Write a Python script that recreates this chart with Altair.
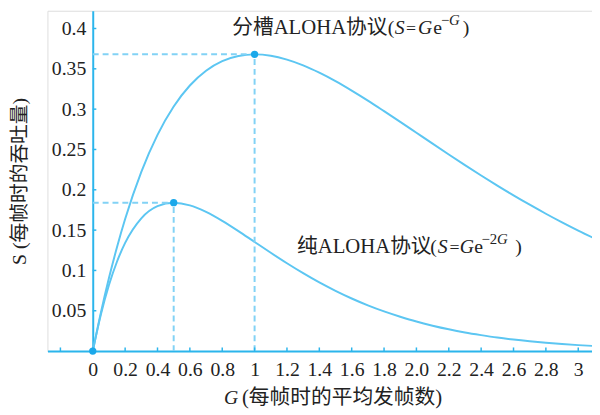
import altair as alt
import pandas as pd

# ---------------- data ----------------
G = [0, 0.05, 0.1, 0.15, 0.2, 0.3, 0.4, 0.5, 0.6, 0.7, 0.8, 0.9, 1.0, 1.1, 1.2,
     1.3, 1.4, 1.5, 1.6, 1.7, 1.8, 1.9, 2.0, 2.1, 2.2, 2.3, 2.4, 2.5, 2.6, 2.7,
     2.8, 2.9, 3.0, 3.1]
S_slotted = [0, 0.0476, 0.0905, 0.1291, 0.1637, 0.2222, 0.2681, 0.3033, 0.3293,
             0.3476, 0.3595, 0.3659, 0.3679, 0.3662, 0.3614, 0.3543, 0.3452,
             0.3347, 0.3230, 0.3106, 0.2975, 0.2842, 0.2707, 0.2572, 0.2438,
             0.2306, 0.2177, 0.2052, 0.1931, 0.1815, 0.1703, 0.1596, 0.1494, 0.1397]
S_pure = [0, 0.0452, 0.0819, 0.1111, 0.1341, 0.1646, 0.1797, 0.1839, 0.1807,
          0.1726, 0.1615, 0.1488, 0.1353, 0.1219, 0.1089, 0.0966, 0.0851,
          0.0747, 0.0652, 0.0567, 0.0492, 0.0426, 0.0366, 0.0315, 0.0270,
          0.0231, 0.0198, 0.0168, 0.0143, 0.0122, 0.0104, 0.0088, 0.0074, 0.0063]

peak_G = [1.0, 0.5]
peak_S = [0.368, 0.184]
origin_G = [0.0]
origin_S = [0.0]

x_tick_values = [-0.2, 0, 0.2, 0.4, 0.6, 0.8, 1.0, 1.2, 1.4, 1.6, 1.8, 2.0,
                 2.2, 2.4, 2.6, 2.8, 3.0]
x_label_values = [0, 0.2, 0.4, 0.6, 0.8, 1.0, 1.2, 1.4, 1.6, 1.8, 2.0,
                  2.2, 2.4, 2.6, 2.8, 3.0]
x_tick_labels = ["0", "0.2", "0.4", "0.6", "0.8", "1", "1.2", "1.4", "1.6",
                 "1.8", "2.0", "2.2", "2.4", "2.6", "2.8", "3"]
y_tick_values = [0.05, 0.1, 0.15, 0.2, 0.25, 0.3, 0.35, 0.4]

y_title = "S (每帧时的吞吐量)"

# annotation pieces (text, x, y, font size, italic)
ann_text = ["分槽ALOHA协议", "(", "S", "=", "G", "e", "−", "G", ")",
            "纯ALOHA协议", "(", "S", "=", "G", "e", "−2", "G", ")",
            "G", "(每帧时的平均发帧数)"]
ann_x = [0.862, 1.823, 1.866, 1.935, 2.010, 2.104, 2.152, 2.201, 2.286,
         1.262, 2.085, 2.132, 2.204, 2.268, 2.358, 2.402, 2.498, 2.610,
         0.811, 0.922]
ann_y = [0.3927, 0.3927, 0.3927, 0.3927, 0.3927, 0.3927, 0.4049, 0.4049, 0.3927,
         0.1211, 0.1211, 0.1211, 0.1211, 0.1211, 0.1211, 0.1333, 0.1333, 0.1211,
         -0.066, -0.066]
ann_size = [21, 20, 20, 18, 20, 20, 15, 15, 20,
            21, 20, 20, 18, 20, 20, 15, 15, 20,
            20, 21]
ann_italic = [False, False, True, False, True, False, False, True, False,
              False, False, True, False, True, False, False, True, False,
              True, False]

# ---------------- styling ----------------
FONT = "Liberation Serif, Noto Sans CJK SC"
NUM_FONT = "Liberation Serif"
AXIS_C = "#2bb5ec"
CURVE_C = "#5cc6f2"
DASH_C = "#82d2f5"
POINT_C = "#1aa8ea"
TEXT_C = "#222222"

curves = pd.DataFrame({
    "G": G * 2,
    "S": S_slotted + S_pure,
    "series": ["slotted"] * len(G) + ["pure"] * len(G),
})
peaks = pd.DataFrame({"G": peak_G, "S": peak_S, "zero": [0.0] * len(peak_G)})
points = pd.DataFrame({"G": origin_G + peak_G, "S": origin_S + peak_S})
xt = pd.DataFrame({"v": x_tick_values})
yt = pd.DataFrame({"v": y_tick_values})
ann = pd.DataFrame({"text": ann_text, "x": ann_x, "y": ann_y,
                    "size": ann_size, "italic": ann_italic})

xscale = alt.Scale(domain=[-0.28, 3.085], nice=False, zero=False)
yscale = alt.Scale(domain=[0, 0.422], nice=False)

label_list = "[" + ",".join("'%s'" % t for t in x_tick_labels) + "]"
x_axis = alt.Axis(
    values=x_label_values, ticks=False, grid=False, labelOverlap=False,
    labelExpr=f"{label_list}[round(datum.value*5)]",
    labelFont=NUM_FONT, labelFontSize=20, labelColor=TEXT_C, labelPadding=9,
    domainColor=AXIS_C, domainWidth=2, title=None,
)
y_axis = alt.Axis(
    values=y_tick_values, ticks=False, grid=False, format=".2~f",
    labelOverlap=False,
    offset=-45.9, labelFont=NUM_FONT, labelFontSize=20, labelColor=TEXT_C,
    labelPadding=7, domainColor=AXIS_C, domainWidth=2,
    title=y_title, titleFont=FONT, titleFontSize=20, titleFontWeight="normal",
    titleColor=TEXT_C, titleX=-74, titleBaseline="middle",
)

lines = alt.Chart(curves).mark_line(
    color=CURVE_C, strokeWidth=2, interpolate="monotone", clip=True
).encode(
    x=alt.X("G:Q", scale=xscale, axis=x_axis),
    y=alt.Y("S:Q", scale=yscale, axis=y_axis),
    detail="series:N",
)

hdash = alt.Chart(peaks).mark_rule(
    color=DASH_C, strokeWidth=2, strokeDash=[6, 4]
).encode(x=alt.X("zero:Q", scale=xscale, axis=x_axis), x2="G:Q",
         y=alt.Y("S:Q", scale=yscale, axis=y_axis))
vdash = alt.Chart(peaks).mark_rule(
    color=DASH_C, strokeWidth=2, strokeDash=[6, 4]
).encode(x=alt.X("G:Q", scale=xscale, axis=x_axis),
         y=alt.Y("zero:Q", scale=yscale, axis=y_axis), y2="S:Q")

dots = alt.Chart(points).mark_circle(color=POINT_C, size=55, opacity=1).encode(
    x=alt.X("G:Q", scale=xscale, axis=x_axis),
    y=alt.Y("S:Q", scale=yscale, axis=y_axis)
)

xticks = alt.Chart(xt).mark_rule(color=AXIS_C, strokeWidth=1.5).encode(
    x=alt.X("v:Q", scale=xscale, axis=x_axis),
    y=alt.datum(0, scale=yscale, axis=y_axis), y2=alt.datum(0.0045),
)
yticks = alt.Chart(yt).mark_rule(color=AXIS_C, strokeWidth=1.5).encode(
    y=alt.Y("v:Q", scale=yscale, axis=y_axis),
    x=alt.datum(0, scale=xscale, axis=x_axis), x2=alt.datum(0.022),
)

def text_layer(italic):
    return alt.Chart(ann).transform_filter(
        f"datum.italic == {'true' if italic else 'false'}"
    ).mark_text(
        font=FONT, align="left", baseline="alphabetic", color=TEXT_C,
        fontStyle="italic" if italic else "normal",
    ).encode(
        x=alt.X("x:Q", scale=xscale, axis=x_axis),
        y=alt.Y("y:Q", scale=yscale, axis=y_axis),
        text="text:N",
        size=alt.Size("size:Q", scale=None),
    )

chart = alt.layer(
    lines, hdash, vdash, xticks, yticks, dots, text_layer(False), text_layer(True)
).properties(
    width=552, height=345,
    padding={"left": 40, "top": 0, "right": 0, "bottom": 62},
    autosize="none",
).configure_view(stroke=None).configure(background="white").configure_axis(
    labelOverlap=False, labelFont=NUM_FONT, labelColor=TEXT_C
)

chart.save("out.html", embed_options={"renderer": "svg", "actions": False})
